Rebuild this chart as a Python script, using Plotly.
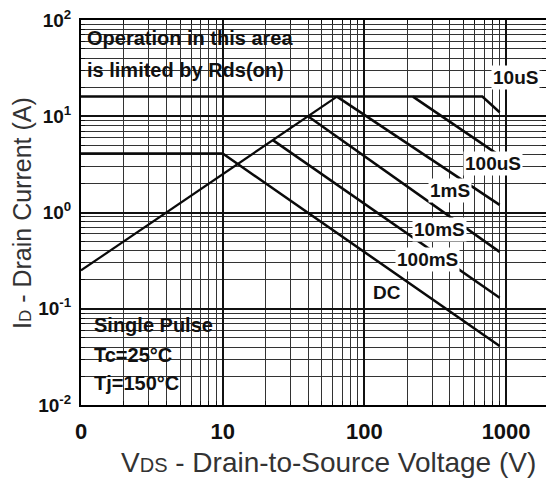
import plotly.graph_objects as go

# ---- data ----
rds_v = [1, 64]
rds_i = [0.25, 16]

us10_v = [1, 680, 900]
us10_i = [16, 16, 11]

us100_v = [220, 900]
us100_i = [16, 3.9]

ms1_v = [64, 900]
ms1_i = [16, 1.2]

ms10_v = [40, 900]
ms10_i = [10, 0.39]

ms100_v = [22.6, 900]
ms100_i = [5.65, 0.13]

dc_v = [1, 10, 900]
dc_i = [4.1, 4.1, 0.041]

x_tickvals = [1, 10, 100, 1000]
x_ticktext = ["0", "10", "100", "1000"]
y_tickvals = [0.01, 0.1, 1, 10, 100]
y_ticktext = ["10<sup>-2</sup>", "10<sup>-1</sup>", "10<sup>0</sup>", "10<sup>1</sup>", "10<sup>2</sup>"]

curve_labels = ["10uS", "100uS", "1mS", "10mS", "100mS", "DC"]

# ---- figure ----
W, H = 546, 480
L, R, T, B = 81, 0, 20, 75
PW, PH = W - L - R, H - T - B


def px(x):
    return (x - L) / PW


def py(y):
    return (H - B - y) / PH


minor_x = [m * 10 ** d for d in range(0, 4) for m in range(2, 10)]
minor_y = [m * 10 ** d for d in range(-2, 2) for m in range(2, 10)]

fig = go.Figure()
series = [
    (rds_v, rds_i, 2.2),
    (us10_v, us10_i, 2.5),
    (us100_v, us100_i, 2.5),
    (ms1_v, ms1_i, 2.5),
    (ms10_v, ms10_i, 2.5),
    (ms100_v, ms100_i, 2.5),
    (dc_v, dc_i, 2.5),
]
for xs, ys, w in series:
    fig.add_trace(go.Scatter(x=xs, y=ys, mode="lines",
                             line=dict(color="#0a0a0a", width=w),
                             showlegend=False, hoverinfo="skip"))

grid_major = "#111111"
grid_minor = "#333333"

fig.update_xaxes(
    type="log", range=[0, 3.2816], autorange=False,
    tickmode="array", tickvals=x_tickvals, ticktext=x_ticktext,
    tickfont=dict(family="Liberation Sans, Arial", size=22, color="#111", weight="bold"),
    showgrid=True, gridcolor=grid_major, gridwidth=1.6,
    ticks="inside", ticklen=5, tickcolor="#111",
    minor=dict(tickmode="array", tickvals=minor_x, showgrid=True,
               gridcolor=grid_minor, gridwidth=1.1, ticks="inside", ticklen=4,
               tickcolor="#111"),
    showline=True, linecolor="#000", linewidth=2, mirror="ticks",
    zeroline=False, automargin=False, ticklabelstandoff=6,
)
fig.update_yaxes(
    type="log", range=[-2, 2], autorange=False,
    tickmode="array", tickvals=y_tickvals, ticktext=y_ticktext,
    tickfont=dict(family="Liberation Sans, Arial", size=19, color="#111", weight="bold"),
    showgrid=True, gridcolor=grid_major, gridwidth=1.6,
    ticks="inside", ticklen=5, tickcolor="#111",
    minor=dict(tickmode="array", tickvals=minor_y, showgrid=True,
               gridcolor=grid_minor, gridwidth=1.1, ticks="inside", ticklen=4,
               tickcolor="#111"),
    showline=True, linecolor="#000", linewidth=2, mirror="ticks",
    zeroline=False, automargin=False, ticklabelstandoff=4,
)

# white boxes (above grid, below traces)
shapes = [
    dict(type="rect", xref="paper", yref="paper", layer="between",
         x0=px(84), x1=px(325), y0=py(85), y1=py(22),
         fillcolor="white", line=dict(width=0)),
    dict(type="rect", xref="paper", yref="paper", layer="between",
         x0=px(84), x1=px(231), y0=py(402), y1=py(312),
         fillcolor="white", line=dict(width=0)),
]
fig.update_layout(shapes=shapes)

bold = dict(family="Liberation Sans, Arial", size=20, color="#111", weight="bold")
annos = []
for txt, yy in [("Operation in this area", 38), ("is limited by Rds(on)", 70)]:
    annos.append(dict(x=px(85), y=py(yy), xref="paper", yref="paper", text=txt,
                      showarrow=False, xanchor="left", yanchor="middle", font=bold))
for txt, yy in [("Single Pulse", 325), ("Tc=25°C", 355), ("Tj=150°C", 383)]:
    annos.append(dict(x=px(92), y=py(yy), xref="paper", yref="paper", text=txt,
                      showarrow=False, xanchor="left", yanchor="middle", font=bold))

label_pos = [(515, 77), (493, 163), (450, 190), (439, 230), (427, 259), (387, 292)]
for txt, (lx, ly) in zip(curve_labels, label_pos):
    annos.append(dict(x=px(lx), y=py(ly), xref="paper", yref="paper", text=txt,
                      showarrow=False, xanchor="center", yanchor="middle",
                      font=dict(family="Liberation Sans, Arial", size=19, color="#111", weight="bold"),
                      bgcolor="white", borderpad=1))

# axis titles
annos.append(dict(x=px(328), y=py(462), xref="paper", yref="paper",
                  text='V<span style="font-size:20px">DS</span> - Drain-to-Source Voltage (V)',
                  showarrow=False, xanchor="center", yanchor="middle",
                  font=dict(family="Liberation Sans, Arial", size=28, color="#333")))
annos.append(dict(x=px(22), y=py(213), xref="paper", yref="paper",
                  text='I<span style="font-size:17px">D</span> - Drain Current (A)',
                  showarrow=False, xanchor="center", yanchor="middle", textangle=-90,
                  font=dict(family="Liberation Sans, Arial", size=25, color="#333")))

fig.update_layout(
    width=W, height=H,
    margin=dict(l=L, r=R, t=T, b=B, pad=0),
    plot_bgcolor="white", paper_bgcolor="white",
    annotations=annos, showlegend=False,
)

fig.write_html("out.html")
